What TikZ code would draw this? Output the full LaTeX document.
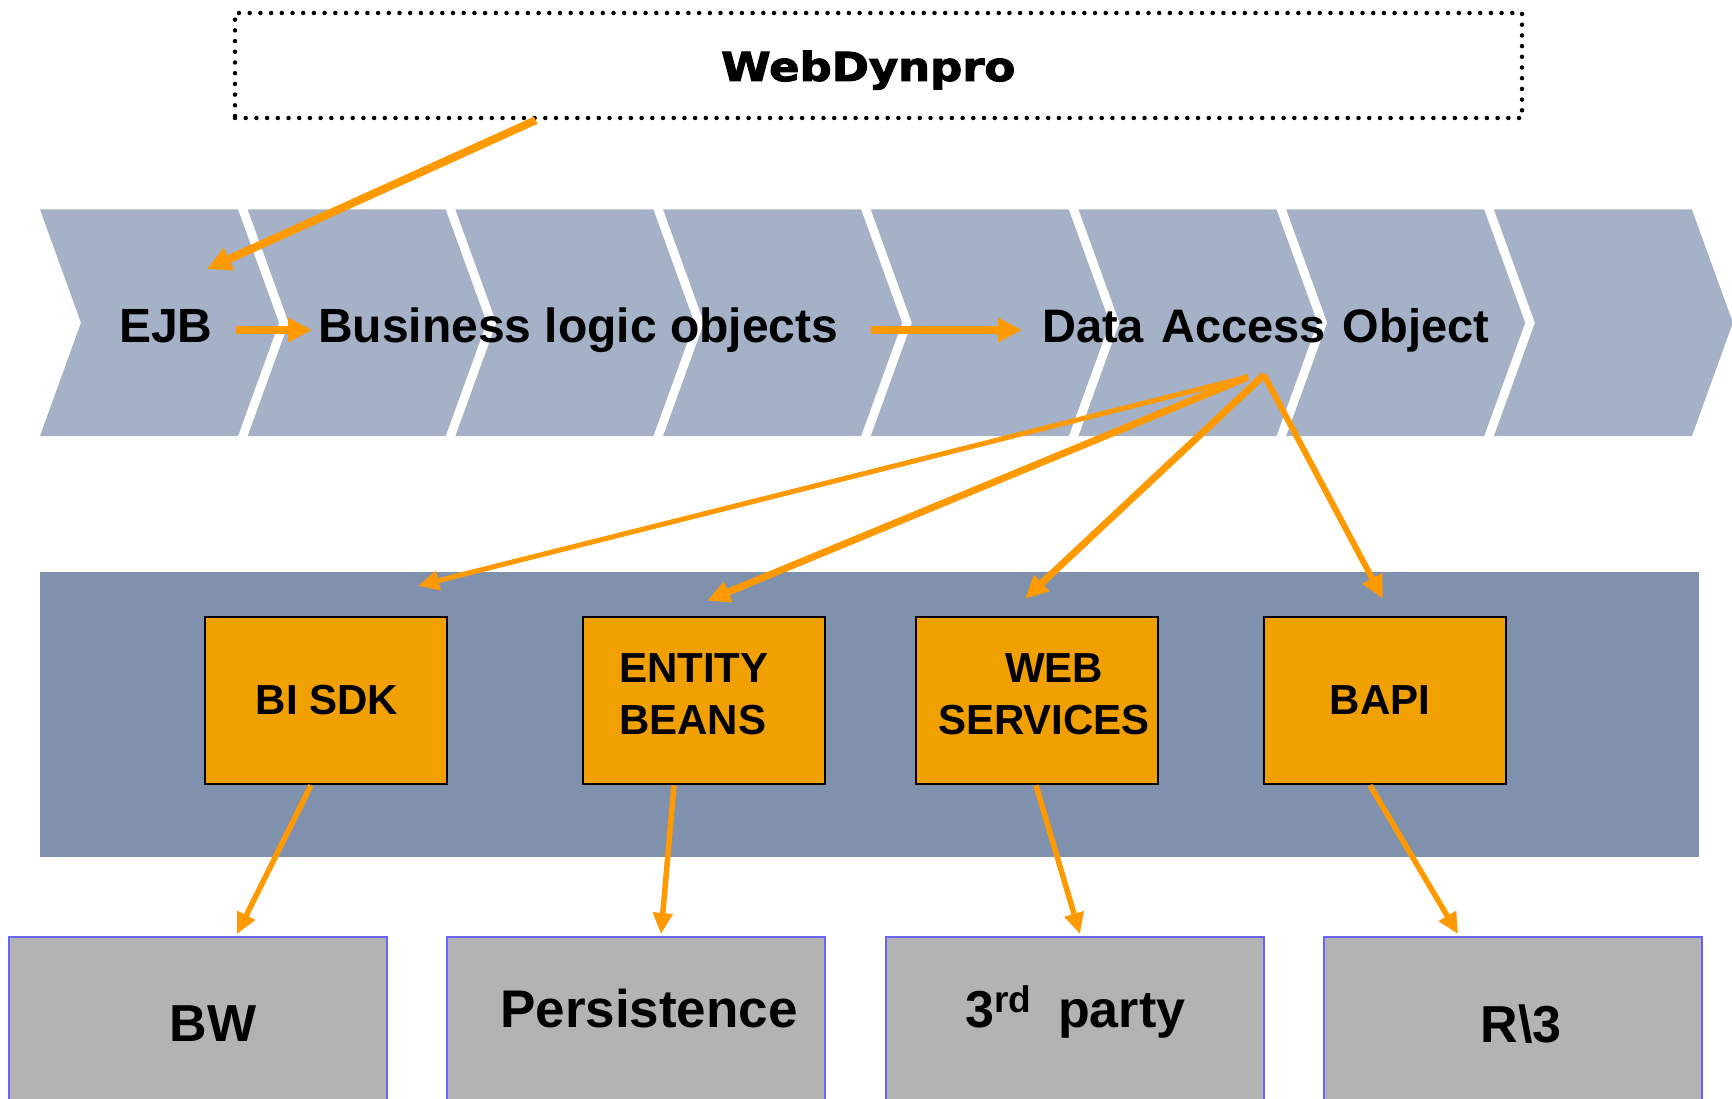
\documentclass[tikz,border=0pt]{standalone}
\usepackage{fontspec}
\usepackage{graphicx}
\setmainfont{Liberation Sans}
\newfontfamily\wdfont{DejaVu Sans}[BoldFeatures={FakeBold=2.5}]
\usetikzlibrary{arrows.meta,calc}
\definecolor{chev}{HTML}{A5B1C6}
\definecolor{bandc}{HTML}{8091AD}
\definecolor{obox}{HTML}{F0A000}
\definecolor{arrc}{HTML}{FF9900}
\definecolor{gbox}{HTML}{B3B3B3}
\definecolor{gline}{HTML}{6666FF}
\begin{document}
\begin{tikzpicture}[x=1pt,y=-1pt,
  ctext/.style={font=\bfseries\fontsize{48}{56}\selectfont, inner sep=0pt},
  otext/.style={font=\bfseries\fontsize{42}{52}\selectfont, inner sep=0pt},
  gtext/.style={font=\bfseries\fontsize{52}{60}\selectfont, inner sep=0pt},
  obx/.style={draw=black, line width=2.5pt, fill=obox, minimum width=242pt, minimum height=167pt, inner sep=0pt},
  gbx/.style={draw=gline, line width=2pt, fill=gbox, minimum width=378pt, minimum height=200pt, anchor=north, inner sep=0pt},
  bigarrow/.style={draw=arrc, line width=8pt, -{Triangle[length=24pt,width=23pt]}},
  midarrow/.style={draw=arrc, line width=6.5pt, -{Triangle[length=23pt,width=21pt]}},
  thinarrow/.style={draw=arrc, line width=5pt, -{Triangle[length=21pt,width=19pt]}},
  dotbox/.style={draw=black, line width=4.5pt, dash pattern=on 0pt off 10.7pt, line cap=round, minimum width=1287pt, minimum height=105pt, inner sep=0pt}
]
\useasboundingbox (0,0) rectangle (1732,1099);
\fill[white] (0,0) rectangle (1732,1099);

% chevrons
\foreach \i in {0,...,7}{
  \pgfmathsetmacro\L{40+207.7*\i}
  \fill[chev] (\L,209.5) -- ++(198,0) -- ++(41,113.25) -- ++(-41,113.25) -- ++(-198,0) -- ++(41,-113.25) -- cycle;
}

% WebDynpro box
\node[dotbox] (wd) at (878.5,65.5) {};
\node[inner sep=0pt, anchor=base west] (wdt) at (721,81) {\resizebox{294pt}{\height}{\wdfont\bfseries\fontsize{40}{46}\selectfont WebDynpro}};

% chevron texts
\node[ctext, anchor=base west] (ejb) at (119,342) {EJB};
\node[ctext, anchor=base west] (blo) at (318,342) {Business logic objects};
\node[ctext, anchor=base west, font=\bfseries\fontsize{47}{56}\selectfont] (dao) at (1042,342) {Data\hspace{4pt} Access\hspace{4pt} Object};

% band
\fill[bandc] (40,572) rectangle (1699,857);

% orange boxes
\node[obx] (bisdk) at (326,700.5) {};
\node[obx] (entity) at (704,700.5) {};
\node[obx] (web) at (1037,700.5) {};
\node[obx] (bapi) at (1385,700.5) {};
\node[otext] (bisdkt) at (327,700) {BI SDK};
\node[otext, anchor=west, align=left] (entityt) at (619,694) {ENTITY\\BEANS};
\node[otext, align=center] (webt) at (1044,694) {\hspace{20pt}WEB\\SERVICES};
\node[otext] (bapit) at (1380,700) {BAPI};

% grey boxes
\node[gbx] (bw) at (198,936) {};
\node[gbx] (pers) at (636,936) {};
\node[gbx] (third) at (1075,936) {};
\node[gbx] (r3) at (1513,936) {};
\node[gtext, anchor=base] (bwt) at (213,1041) {BW};
\node[gtext, anchor=base west, font=\bfseries\fontsize{53}{60}\selectfont] (perst) at (500,1027) {Persistence};
\node[gtext, anchor=base west] (thirdt) at (965,1027) {3\raisebox{15pt}{\fontsize{37}{40}\selectfont rd}\hspace{27pt}party};
\node[gtext, anchor=base] (r3t) at (1521,1042) {R\textbackslash 3};

% coordinates for free ends
\coordinate (ejbin) at (207,269);
\coordinate (ejbout) at (236,330);
\coordinate (bloin) at (312,330);
\coordinate (bloout) at (871,330);
\coordinate (daoin) at (1022,330);
\coordinate (daoL) at (1248,377);
\coordinate (daoR) at (1264,375);

% arrows
\draw[bigarrow] ([xshift=303pt]wd.south west) -- (ejbin);
\draw[bigarrow] (ejbout) -- (bloin);
\draw[bigarrow] (bloout) -- (daoin);

\draw[thinarrow] (daoL) -- ([xshift=92pt,yshift=30pt]bisdk.north);
\draw[midarrow, line width=7pt] (daoL) -- ([xshift=3pt,yshift=15pt]entity.north);
\draw[midarrow, line width=7pt] (daoR) -- ([xshift=-12pt,yshift=17pt]web.north);
\draw[midarrow, line width=6pt] (daoR) -- ([xshift=-2pt,yshift=17pt]bapi.north);

\draw[thinarrow, line width=5.5pt] ([xshift=-15pt]bisdk.south) -- ([xshift=39pt,yshift=2pt]bw.north);
\draw[thinarrow, line width=5.5pt] ([xshift=-30pt]entity.south) -- ([xshift=25pt,yshift=2pt]pers.north);
\draw[thinarrow, line width=5.5pt] ([xshift=-1pt]web.south) -- ([xshift=5pt,yshift=2pt]third.north);
\draw[thinarrow, line width=5.5pt] ([xshift=-15pt]bapi.south) -- ([xshift=-55pt,yshift=2pt]r3.north);
\end{tikzpicture}
\end{document}
